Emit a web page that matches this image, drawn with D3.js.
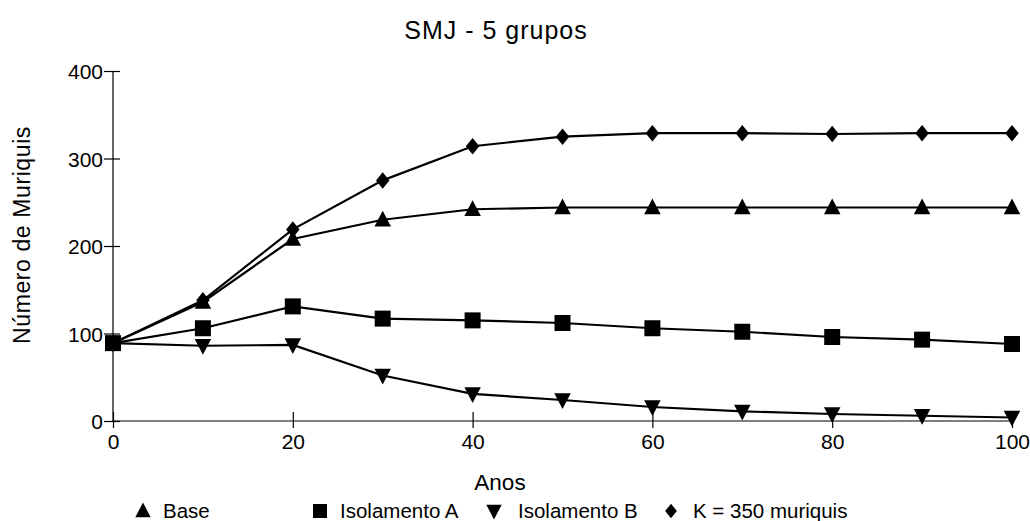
<!DOCTYPE html>
<html><head><meta charset="utf-8">
<script src="https://cdn.jsdelivr.net/npm/d3@7"></script>
<style>body{margin:0;background:#fff}svg{display:block}text{font-family:"Liberation Sans",Arial,sans-serif;fill:#000}</style>
</head><body><svg id="c" width="1030" height="521"></svg>
<script>
const years = [0,10,20,30,40,50,60,70,80,90,100];
const base = [89,136,208,230,242,244,244,244,244,244,244];
const isoA = [89,106,131,117,115,112,106,102,96,93,88];
const isoB = [89,86,87,52,31,24,16,11,8,6,4];
const kCap = [89,138,219,275,314,325,329,329,328,329,329];
const xTicks = [0,20,40,60,80,100];
const yTicks = [0,100,200,300,400];
const seriesNames = ["Base","Isolamento A","Isolamento B","K = 350 muriquis"];
const seriesShapes = ["up","square","down","diamond"];
const seriesData = [base,isoA,isoB,kCap];

const svg = d3.select("#c");
const L=113,R=1012,T=71,B=421;
const x = d3.scaleLinear().domain([0,100]).range([L,R]);
const y = d3.scaleLinear().domain([0,400]).range([B,T]);

// axes
const gx = svg.append("g").attr("transform",`translate(0,${B})`)
  .call(d3.axisBottom(x).tickValues(xTicks).tickSize(8).tickPadding(4).tickFormat(d3.format("d")));
gx.select(".domain").attr("d",`M${L},0H${R}`);
gx.selectAll(".tick line").attr("y1",-9).attr("y2",7);
gx.selectAll("text").attr("font-size",21).attr("dy",null).attr("y",28);
const gy = svg.append("g").attr("transform",`translate(${L},0)`)
  .call(d3.axisLeft(y).tickValues(yTicks).tickSize(8).tickPadding(4).tickFormat(d3.format("d")));
gy.select(".domain").attr("d",`M0,${B}V${T}`);
gy.selectAll(".tick line").attr("x1",-9).attr("x2",7);
gy.selectAll("text").attr("font-size",21).attr("x",-10).attr("dy","0.36em");
svg.selectAll(".domain,.tick line").attr("stroke","#000").attr("stroke-width",1.2);
svg.selectAll(".tick text").attr("font-family","Liberation Sans, Arial, sans-serif").attr("fill","#000");

function sym(shape,s){
  if(shape==="up") return `M0,${-s*0.6}L${s*0.55},${s*0.45}L${-s*0.55},${s*0.45}Z`;
  if(shape==="down") return `M0,${s*0.6}L${s*0.55},${-s*0.45}L${-s*0.55},${-s*0.45}Z`;
  if(shape==="square") return `M${-s/2},${-s/2}h${s}v${s}h${-s}Z`;
  return `M0,${-s*0.55}L${s*0.45},0L0,${s*0.55}L${-s*0.45},0Z`;
}
const sizes = {up:15,square:16,down:15,diamond:15};
const line = d3.line().x((d,i)=>x(years[i])).y(d=>y(d));
seriesData.forEach((data,k)=>{
  svg.append("path").attr("d",line(data)).attr("fill","none").attr("stroke","#000").attr("stroke-width",2.2);
});
seriesData.forEach((data,k)=>{
  svg.append("g").selectAll("path").data(data).join("path")
    .attr("transform",(d,i)=>`translate(${x(years[i])},${y(d)})`)
    .attr("d",sym(seriesShapes[k],sizes[seriesShapes[k]])).attr("fill","#000");
});

svg.append("text").attr("x",496).attr("y",39).attr("text-anchor","middle").attr("font-size",25).attr("letter-spacing",1).text("SMJ - 5 grupos");
svg.append("text").attr("x",500).attr("y",490).attr("text-anchor","middle").attr("font-size",22.5).text("Anos");
svg.append("text").attr("transform","translate(30,235) rotate(-90)").attr("text-anchor","middle").attr("font-size",23).attr("letter-spacing",0.6).text("Número de Muriquis");

const legX=[143,320,494,671];
const legT=[163,340,518,693];
const legS=[14,14,14,13];
seriesNames.forEach((n,k)=>{
  svg.append("path").attr("transform",`translate(${legX[k]},${511})`).attr("d",sym(seriesShapes[k],legS[k])).attr("fill","#000");
  svg.append("text").attr("x",legT[k]).attr("y",518).attr("font-size",20.5).text(n);
});
</script></body></html>
